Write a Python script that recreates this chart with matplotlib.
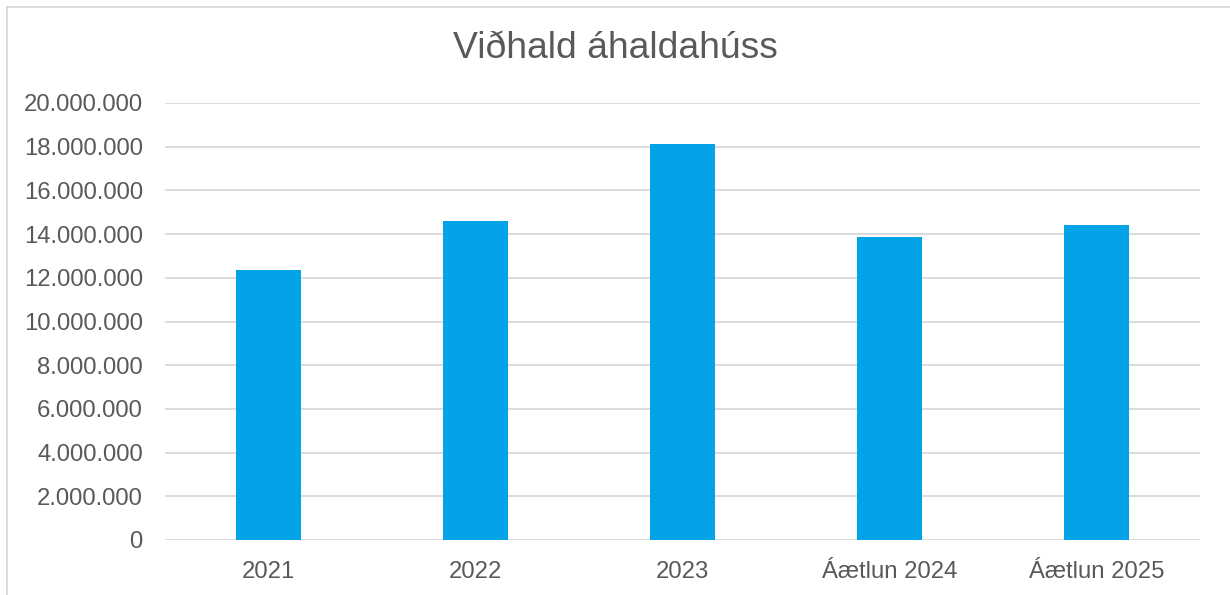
import matplotlib.pyplot as plt
from matplotlib.lines import Line2D
from matplotlib.ticker import FuncFormatter

categories = ["2021", "2022", "2023", "Áætlun 2024", "Áætlun 2025"]
values = [12360000, 14600000, 18110000, 13870000, 14420000]

plt.rcParams['font.family'] = ['Liberation Sans', 'DejaVu Sans']

fig = plt.figure(figsize=(12.3, 5.95), dpi=100)
ax = fig.add_axes([165 / 1230, 1 - 540 / 595, 1035 / 1230, 437 / 595])

ax.bar(range(len(categories)), values, width=0.315, color='#04A2E6', zorder=3)

ax.set_xlim(-0.5, len(categories) - 0.5)
ax.set_ylim(0, 20000000)
ax.set_yticks(range(0, 20000001, 2000000))
ax.yaxis.set_major_formatter(FuncFormatter(lambda v, p: f"{int(v):,}".replace(",", ".")))
ax.set_xticks(range(len(categories)))
ax.set_xticklabels(categories)

ax.grid(axis='y', color='#d9d9d9', linewidth=1.3, zorder=0)
for s in ax.spines.values():
    s.set_visible(False)
ax.tick_params(axis='both', length=0, labelsize=17.2, colors='#595959')
ax.tick_params(axis='y', pad=16)
ax.tick_params(axis='x', pad=15)

fig.text(0.5, 1 - 48 / 595, "Viðhald áhaldahúss", ha='center', va='center',
         fontsize=26.8, color='#595959')

# outer chart border
fig.add_artist(Line2D([7 / 1230, 7 / 1230], [0, 1 - 7 / 595], color='#d9d9d9', lw=1.3))
fig.add_artist(Line2D([7 / 1230, 1], [1 - 7 / 595, 1 - 7 / 595], color='#d9d9d9', lw=1.3))

fig.savefig("out.png", dpi=100)
